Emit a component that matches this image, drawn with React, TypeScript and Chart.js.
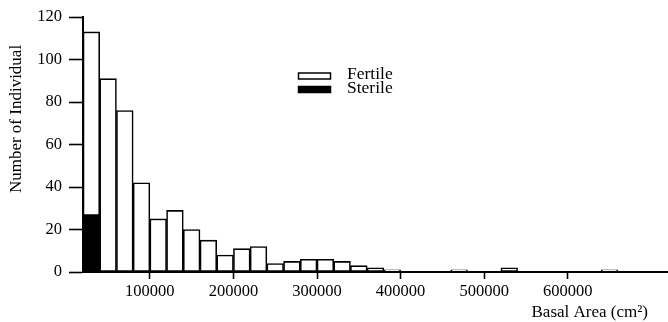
import React, { useEffect, useRef } from "react";
import { Chart, registerables } from "chart.js";

Chart.register(...registerables);

// Histogram bins (lower edge of each 20000 cm² bin)
const binStarts = [
  20000, 40000, 60000, 80000, 100000, 120000, 140000, 160000, 180000, 200000,
  220000, 240000, 260000, 280000, 300000, 320000, 340000, 360000, 380000, 400000,
  420000, 440000, 460000, 480000, 500000, 520000, 540000, 560000, 580000, 600000,
  620000, 640000, 660000, 680000, 700000,
];
const binWidth = 20000;

const fertileCounts = [
  113, 91, 76, 42, 25, 29, 20, 15, 8, 11,
  12, 4, 5, 6, 6, 5, 3, 2, 1, 0,
  0, 0, 1, 0, 0, 2, 0, 0, 0, 0,
  0, 1, 0, 0, 0,
];
const sterileCounts = [
  27, 0, 0, 0, 0, 0, 0, 0, 0, 0,
  0, 0, 0, 0, 0, 0, 0, 0, 0, 0,
  0, 0, 0, 0, 0, 0, 0, 0, 0, 0,
  0, 0, 0, 0, 0,
];

const xTicks = [100000, 200000, 300000, 400000, 500000, 600000];
const yTicks = [0, 20, 40, 60, 80, 100, 120];
const seriesLabels = ["Fertile", "Sterile"];
const xTitle = "Basal Area (cm²)";
const yTitle = "Number of Individual";

const FONT = "'Liberation Serif', 'Times New Roman', serif";

const titlesAndLegend = {
  id: "titlesAndLegend",
  afterDraw(chart: any) {
    const ctx = chart.ctx;
    ctx.save();
    ctx.fillStyle = "#000";
    ctx.font = `17px ${FONT}`;
    // y title
    ctx.save();
    ctx.translate(17, 119);
    ctx.rotate(-Math.PI / 2);
    ctx.textAlign = "center";
    ctx.textBaseline = "middle";
    ctx.fillText(yTitle, 0, 0);
    ctx.restore();
    // x title
    ctx.textAlign = "right";
    ctx.textBaseline = "alphabetic";
    ctx.fillText(xTitle, 648, 317);
    // legend
    ctx.font = `17.5px ${FONT}`;
    const boxX = 298.5, boxW = 32, boxH = 6;
    const rows = [
      { y: 73, fill: "#fff", label: seriesLabels[0], base: 78.5 },
      { y: 86.5, fill: "#000", label: seriesLabels[1], base: 92.5 },
    ];
    ctx.lineWidth = 1.5;
    ctx.strokeStyle = "#000";
    rows.forEach((r) => {
      ctx.fillStyle = r.fill;
      ctx.fillRect(boxX, r.y, boxW, boxH);
      ctx.strokeRect(boxX, r.y, boxW, boxH);
      ctx.fillStyle = "#000";
      ctx.textAlign = "left";
      ctx.fillText(r.label, 347, r.base);
    });
    ctx.restore();
  },
};

export default function App() {
  const canvasRef = useRef<HTMLCanvasElement | null>(null);

  useEffect(() => {
    const canvas = canvasRef.current;
    if (!canvas) return;
    const fertile = binStarts.map((s, i) => ({ x: s + binWidth / 2, y: fertileCounts[i] }));
    const sterile = binStarts.map((s, i) => ({ x: s + binWidth / 2, y: sterileCounts[i] }));
    const chart = new Chart(canvas, {
      type: "bar",
      data: {
        datasets: [
          {
            label: seriesLabels[0],
            data: fertile,
            backgroundColor: "#ffffff",
            borderColor: "#000000",
            borderWidth: 1.6,
            borderSkipped: false,
            order: 1,
          } as any,
          {
            label: seriesLabels[1],
            data: sterile,
            backgroundColor: "#000000",
            borderColor: "#000000",
            borderWidth: 0,
            order: 0,
          } as any,
        ],
      },
      options: {
        animation: false,
        responsive: false,
        events: [],
        layout: { padding: { top: 17, left: 0, right: 0, bottom: 0 } },
        datasets: {
          bar: {
            grouped: false,
            categoryPercentage: 1,
            barPercentage: 1,
          },
        },
        plugins: {
          legend: { display: false },
          tooltip: { enabled: false },
          title: { display: false },
        },
        scales: {
          x: {
            type: "linear",
            min: 20000,
            max: 720000,
            offset: false,
            grid: {
              display: true,
              offset: false,
              drawOnChartArea: false,
              drawTicks: true,
              tickLength: 7,
              tickWidth: 1.6,
              tickColor: "#000",
            },
            border: { display: true, color: "#000", width: 2 },
            ticks: {
              color: "#000",
              font: { family: FONT, size: 16.5 },
              padding: 3,
              maxRotation: 0,
              autoSkip: false,
              callback: (v: any) => String(v),
            },
            afterBuildTicks: (scale: any) => {
              scale.ticks = xTicks.map((v) => ({ value: v }));
            },
            afterFit: (scale: any) => {
              scale.height = 50;
            },
          },
          y: {
            type: "linear",
            min: 0,
            max: 120,
            grid: {
              display: true,
              offset: false,
              drawOnChartArea: false,
              drawTicks: true,
              tickLength: 14,
              tickWidth: 1.6,
              tickColor: "#000",
            },
            border: { display: true, color: "#000", width: 2 },
            ticks: {
              color: "#000",
              font: { family: FONT, size: 16.5 },
              padding: 7,
              autoSkip: false,
            },
            afterBuildTicks: (scale: any) => {
              scale.ticks = yTicks.map((v) => ({ value: v }));
            },
            afterFit: (scale: any) => {
              scale.width = 83;
            },
          },
        },
      },
      plugins: [titlesAndLegend],
    });
    return () => chart.destroy();
  }, []);

  return (
    <div style={{ position: "absolute", left: 0, top: 0, width: 668, height: 322, background: "#fff" }}>
      <canvas ref={canvasRef} width={668} height={322} style={{ display: "block" }} />
    </div>
  );
}
